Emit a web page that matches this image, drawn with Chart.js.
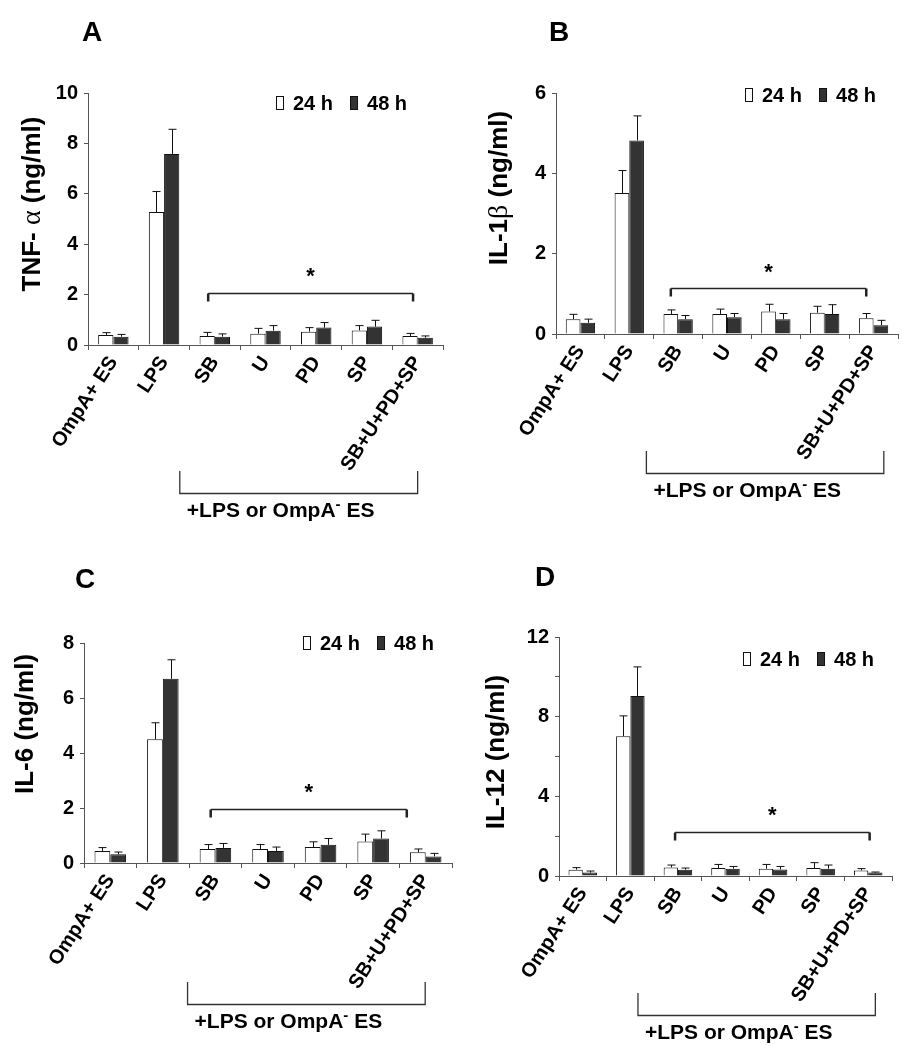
<!DOCTYPE html>
<html>
<head>
<meta charset="utf-8">
<script src="https://cdn.jsdelivr.net/npm/chart.js@4.4.0/dist/chart.umd.min.js"></script>
<style>
  body { margin: 0; background: #fff; }
  #wrap { position: relative; width: 914px; height: 1050px; background: #fff; }
  .panel { position: absolute; width: 457px; height: 525px; }
</style>
</head>
<body>
<div id="wrap">
  <div class="panel" style="left:0;top:0"><canvas id="chartA" width="457" height="525"></canvas></div>
  <div class="panel" style="left:457px;top:0"><canvas id="chartB" width="457" height="525"></canvas></div>
  <div class="panel" style="left:0;top:525px"><canvas id="chartC" width="457" height="525"></canvas></div>
  <div class="panel" style="left:457px;top:525px"><canvas id="chartD" width="457" height="525"></canvas></div>
</div>
<script>
const categories = ["OmpA+ ES", "LPS", "SB", "U", "PD", "SP", "SB+U+PD+SP"];
const seriesNames = ["24 h", "48 h"];

// TNF-alpha
const tnf24 = [0.40, 5.28, 0.36, 0.45, 0.53, 0.58, 0.36];
const tnf24Err = [0.09, 0.81, 0.14, 0.21, 0.16, 0.19, 0.10];
const tnf48 = [0.33, 7.58, 0.33, 0.57, 0.69, 0.73, 0.29];
const tnf48Err = [0.09, 0.98, 0.11, 0.20, 0.20, 0.25, 0.07];

// IL-1 beta
const il1b24 = [0.37, 3.51, 0.50, 0.50, 0.56, 0.53, 0.39];
const il1b24Err = [0.12, 0.56, 0.10, 0.12, 0.18, 0.16, 0.12];
const il1b48 = [0.28, 4.82, 0.37, 0.42, 0.37, 0.50, 0.22];
const il1b48Err = [0.09, 0.61, 0.09, 0.09, 0.14, 0.23, 0.12];

// IL-6
const il6_24 = [0.44, 4.50, 0.51, 0.51, 0.58, 0.78, 0.39];
const il6_24Err = [0.12, 0.60, 0.16, 0.16, 0.19, 0.27, 0.12];
const il6_48 = [0.32, 6.70, 0.55, 0.44, 0.66, 0.89, 0.24];
const il6_48Err = [0.08, 0.69, 0.16, 0.14, 0.23, 0.28, 0.11];

// IL-12
const il12_24 = [0.32, 7.02, 0.43, 0.40, 0.37, 0.40, 0.28];
const il12_24Err = [0.10, 1.02, 0.12, 0.18, 0.21, 0.27, 0.09];
const il12_48 = [0.17, 9.04, 0.32, 0.37, 0.33, 0.37, 0.17];
const il12_48Err = [0.08, 1.46, 0.08, 0.11, 0.15, 0.18, 0.03];

// significance bracket (value units) and asterisk height
const sigLevel = { A: 2.05, B: 1.14, C: 1.97, D: 2.19 };
const starLevel = { A: 2.95, B: 1.68, C: 2.77, D: 3.31 };

const SANS = '"Liberation Sans", Arial, Helvetica, sans-serif';
const SERIF = '"Liberation Serif", "Times New Roman", serif';
const W = 457, H = 525;

const panels = [
  { id: "chartA", letter: "A", letterPos: [92, 33], max: 10, step: 2, every: 2,
    d24: tnf24, e24: tnf24Err, d48: tnf48, e48: tnf48Err,
    area: { L: 88, T: 93, R: 443, B: 345 },
    title: [["TNF- ", "bold 26px " + SANS], ["\u03b1", "28px " + SERIF], [" (ng/ml)", "bold 26px " + SANS]],
    titlePos: [33, 204], legendPos: [276, 103],
    sig: [1.87, 5.91], sigY: sigLevel.A, starY: starLevel.A,
    group: [1.31, 6.0], groupY: [126, 148] },
  { id: "chartB", letter: "B", letterPos: [102, 33], max: 6, step: 2, every: 2,
    d24: il1b24, e24: il1b24Err, d48: il1b48, e48: il1b48Err,
    area: { L: 99, T: 93, R: 441, B: 334 },
    title: [["IL-1", "bold 26px " + SANS], ["\u03b2", "28px " + SERIF], [" (ng/ml)", "bold 26px " + SANS]],
    titlePos: [43, 188], legendPos: [288, 95],
    sig: [1.85, 5.85], sigY: sigLevel.B, starY: starLevel.B,
    group: [1.35, 6.21], groupY: [117, 139] },
  { id: "chartC", letter: "C", letterPos: [85, 55], max: 8, step: 2, every: 2,
    d24: il6_24, e24: il6_24Err, d48: il6_48, e48: il6_48Err,
    area: { L: 84, T: 118, R: 452, B: 338 },
    title: [["IL-6 (ng/ml)", "bold 26px " + SANS]],
    titlePos: [26, 199], legendPos: [303, 118],
    sig: [1.91, 5.64], sigY: sigLevel.C, starY: starLevel.C,
    group: [1.47, 5.99], groupY: [119, 141] },
  { id: "chartD", letter: "D", letterPos: [88, 53], max: 12, step: 2, every: 4,
    d24: il12_24, e24: il12_24Err, d48: il12_48, e48: il12_48Err,
    area: { L: 102, T: 112, R: 435, B: 351 },
    title: [["IL-12 (ng/ml)", "bold 26px " + SANS]],
    titlePos: [40, 227], legendPos: [286, 134],
    sig: [1.94, 6.03], sigY: sigLevel.D, starY: starLevel.D,
    group: [1.16, 6.15], groupY: [117, 139] }
];

// draws text pieces one after another from x, each piece: [text, font, dy]
function drawParts(ctx, parts, x, y) {
  let cx = x;
  parts.forEach(p => {
    ctx.font = p[1];
    ctx.fillText(p[0], cx, y + (p[2] || 0));
    cx += ctx.measureText(p[0]).width;
  });
  return cx;
}
function partsWidth(ctx, parts) {
  let w = 0;
  parts.forEach(p => { ctx.font = p[1]; w += ctx.measureText(p[0]).width; });
  return w;
}

const decor = {
  id: "decor",
  afterDatasetsDraw(chart) {
    const ctx = chart.ctx;
    const p = chart.options.plugins.decor.panel;
    const y = chart.scales.y;
    const errs = [p.e24, p.e48];
    ctx.save();
    ctx.strokeStyle = "#111";
    ctx.lineWidth = 1;
    chart.data.datasets.forEach((ds, di) => {
      chart.getDatasetMeta(di).data.forEach((bar, i) => {
        const top = y.getPixelForValue(ds.data[i] + errs[di][i]);
        const x = Math.round(bar.x) + 0.5;
        ctx.beginPath();
        ctx.moveTo(x, bar.y);
        ctx.lineTo(x, top);
        ctx.moveTo(x - 4, top);
        ctx.lineTo(x + 4, top);
        ctx.stroke();
      });
    });
    ctx.restore();
  },
  afterDraw(chart) {
    const ctx = chart.ctx;
    const p = chart.options.plugins.decor.panel;
    const xs = chart.scales.x, ys = chart.scales.y;
    ctx.save();
    ctx.fillStyle = "#000";
    ctx.textBaseline = "middle";

    // panel letter
    ctx.textAlign = "center";
    ctx.font = "bold 28px " + SANS;
    ctx.fillText(p.letter, p.letterPos[0], p.letterPos[1]);

    // y title
    ctx.save();
    ctx.translate(p.titlePos[0], p.titlePos[1]);
    ctx.rotate(-Math.PI / 2);
    ctx.textAlign = "left";
    drawParts(ctx, p.title, -partsWidth(ctx, p.title) / 2, 0);
    ctx.restore();

    // legend
    ctx.textAlign = "left";
    let lx = p.legendPos[0];
    const ly = p.legendPos[1];
    const fills = ["#ffffff", "#333333"];
    seriesNames.forEach((name, i) => {
      ctx.fillStyle = fills[i];
      ctx.fillRect(lx + 0.5, ly - 6.5, 7, 13);
      ctx.strokeStyle = "#111";
      ctx.lineWidth = 1;
      ctx.strokeRect(lx + 0.5, ly - 6.5, 7, 13);
      ctx.fillStyle = "#000";
      ctx.font = "bold 20px " + SANS;
      ctx.fillText(name, lx + 17, ly + 1);
      lx += 17 + ctx.measureText(name).width + 17;
    });

    // significance bracket
    const x1 = xs.getPixelForValue(p.sig[0]);
    const x2 = xs.getPixelForValue(p.sig[1]);
    const by = Math.round(ys.getPixelForValue(p.sigY)) + 0.5;
    ctx.strokeStyle = "#222";
    ctx.lineWidth = 1.3;
    ctx.beginPath();
    ctx.moveTo(x1, by);
    ctx.lineTo(x2, by);
    ctx.stroke();
    ctx.lineWidth = 2.5;
    ctx.beginPath();
    ctx.moveTo(x1, by);
    ctx.lineTo(x1, by + 8);
    ctx.moveTo(x2, by);
    ctx.lineTo(x2, by + 8);
    ctx.stroke();
    ctx.fillStyle = "#000";
    ctx.textAlign = "center";
    ctx.textBaseline = "alphabetic";
    ctx.font = "bold 22px " + SANS;
    ctx.fillText("*", (x1 + x2) / 2, ys.getPixelForValue(p.starY) + 12);

    // treatment group bracket below the axis
    const g1 = xs.getPixelForValue(p.group[0]);
    const g2 = xs.getPixelForValue(p.group[1]);
    const base = chart.chartArea.bottom;
    const gt = base + p.groupY[0], gb = Math.round(base + p.groupY[1]) + 0.5;
    ctx.strokeStyle = "#333";
    ctx.lineWidth = 1.3;
    ctx.beginPath();
    ctx.moveTo(g1, gt);
    ctx.lineTo(g1, gb);
    ctx.lineTo(g2, gb);
    ctx.lineTo(g2, gt);
    ctx.stroke();
    ctx.textAlign = "left";
    ctx.textBaseline = "middle";
    drawParts(ctx, [
      ["+LPS or OmpA", "bold 21px " + SANS],
      ["-", "bold 15px " + SANS, -7],
      [" ES", "bold 21px " + SANS]
    ], g1 + 7, gb + 18);
    ctx.restore();
  }
};

function makePanel(p) {
  const a = p.area;
  return new Chart(document.getElementById(p.id), {
    type: "bar",
    data: {
      labels: categories,
      datasets: [
        { label: seriesNames[0], data: p.d24, backgroundColor: "#ffffff", borderColor: "#111", borderWidth: 1,
          categoryPercentage: 0.6, barPercentage: 1.0 },
        { label: seriesNames[1], data: p.d48, backgroundColor: "#333333", borderColor: "#111", borderWidth: 1,
          categoryPercentage: 0.6, barPercentage: 1.0 }
      ]
    },
    options: {
      responsive: false,
      animation: false,
      layout: { padding: { left: 0, top: a.T, right: W - a.R, bottom: 0 } },
      plugins: {
        legend: { display: false },
        tooltip: { enabled: false },
        decor: { panel: p }
      },
      scales: {
        x: {
          grid: { display: true, drawOnChartArea: false, offset: true, tickLength: 5, color: "#555" },
          border: { color: "#555", width: 1 },
          ticks: {
            color: "#000", autoSkip: false, minRotation: 57, maxRotation: 57, padding: 2,
            font: { family: SANS, size: 20, weight: "bold" }
          },
          afterFit: s => { s.height = H - a.B; }
        },
        y: {
          min: 0, max: p.max,
          grid: { display: true, drawOnChartArea: false, tickLength: 4, color: "#555" },
          border: { color: "#555", width: 1 },
          ticks: {
            stepSize: p.step, color: "#000", padding: 6,
            font: { family: SANS, size: 20, weight: "bold" },
            callback: v => (v % p.every === 0 ? v : "")
          },
          afterFit: s => { s.width = a.L; }
        }
      }
    },
    plugins: [decor]
  });
}

panels.forEach(makePanel);
</script>
</body>
</html>
